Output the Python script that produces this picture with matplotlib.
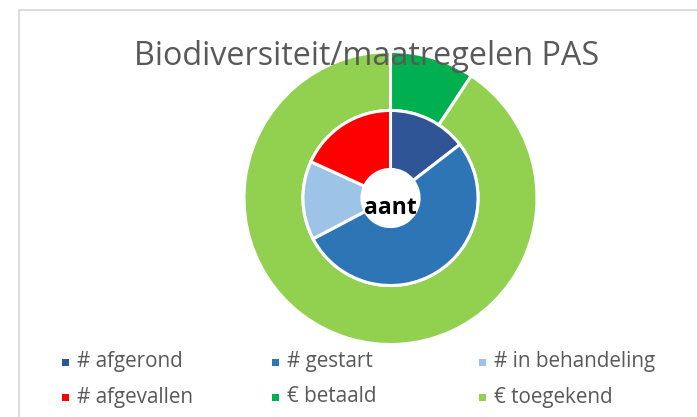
import matplotlib
matplotlib.use("Agg")
import matplotlib.pyplot as plt
from matplotlib.patches import Rectangle

# ---- data ----
title = "Biodiversiteit/maatregelen PAS"
center_label = "aant"
inner_labels = ["# afgerond", "# gestart", "# in behandeling", "# afgevallen"]
inner_values = [8, 29, 8, 10]
inner_colors = ["#2F5597", "#2E75B6", "#9DC3E6", "#FF0000"]
outer_labels = ["€ betaald", "€ toegekend"]
outer_values = [9.3, 90.7]
outer_colors = ["#00B050", "#92D050"]

W, H = 697, 417
DPI = 100
fig = plt.figure(figsize=(W / DPI, H / DPI), dpi=DPI)
fig.patch.set_facecolor("white")

def fx(px):
    return px / W

def fy(py):
    return 1 - py / H

# chart area border (cropped at right/bottom)
fig.patches.append(Rectangle((fx(19), fy(430)), fx(720) - fx(19), fy(10) - fy(430),
                             transform=fig.transFigure, fill=False,
                             edgecolor="#D9D9D9", linewidth=1.3))

# donut axes
cx, cy, R = 390.5, 198.0, 146.5
ax = fig.add_axes([fx(cx - R), fy(cy + R), 2 * R / W, 2 * R / H])
ring_w = (1 - 0.195) / 2
wp = dict(edgecolor="white", linewidth=2.2)
ax.pie(outer_values, radius=1.0, colors=outer_colors, startangle=90,
       counterclock=False, wedgeprops=dict(width=ring_w, **wp))
ax.pie(inner_values, radius=1.0 - ring_w, colors=inner_colors, startangle=90,
       counterclock=False, wedgeprops=dict(width=ring_w, **wp))
ax.set_xlim(-1, 1)
ax.set_ylim(-1, 1)
ax.set_aspect("equal")
ax.axis("off")
ax.text(0, -0.07, center_label, ha="center", va="center", fontsize=16.5,
        fontweight="bold", color="black", family="Open Sans")

# title
fig.text(fx(367), fy(65), title, ha="center", va="baseline", fontsize=23.3,
         color="#595959", family="Open Sans")

# legend
labels = inner_labels + outer_labels
colors = inner_colors + outer_colors
col_x = [65, 275, 482]
row_y = [362, 397]
for i, (lab, col) in enumerate(zip(labels, colors)):
    c, r = i % 3, i // 3
    s = 7
    fig.patches.append(Rectangle((fx(col_x[c] - s / 2), fy(row_y[r] + s / 2)), s / W, s / H,
                                 transform=fig.transFigure, facecolor=col, edgecolor="none"))
    fig.text(fx(col_x[c] + 12), fy(row_y[r]), lab, ha="left", va="center",
             fontsize=14.9, color="#595959", family="Open Sans")

fig.savefig("out.png", dpi=DPI, facecolor="white")
